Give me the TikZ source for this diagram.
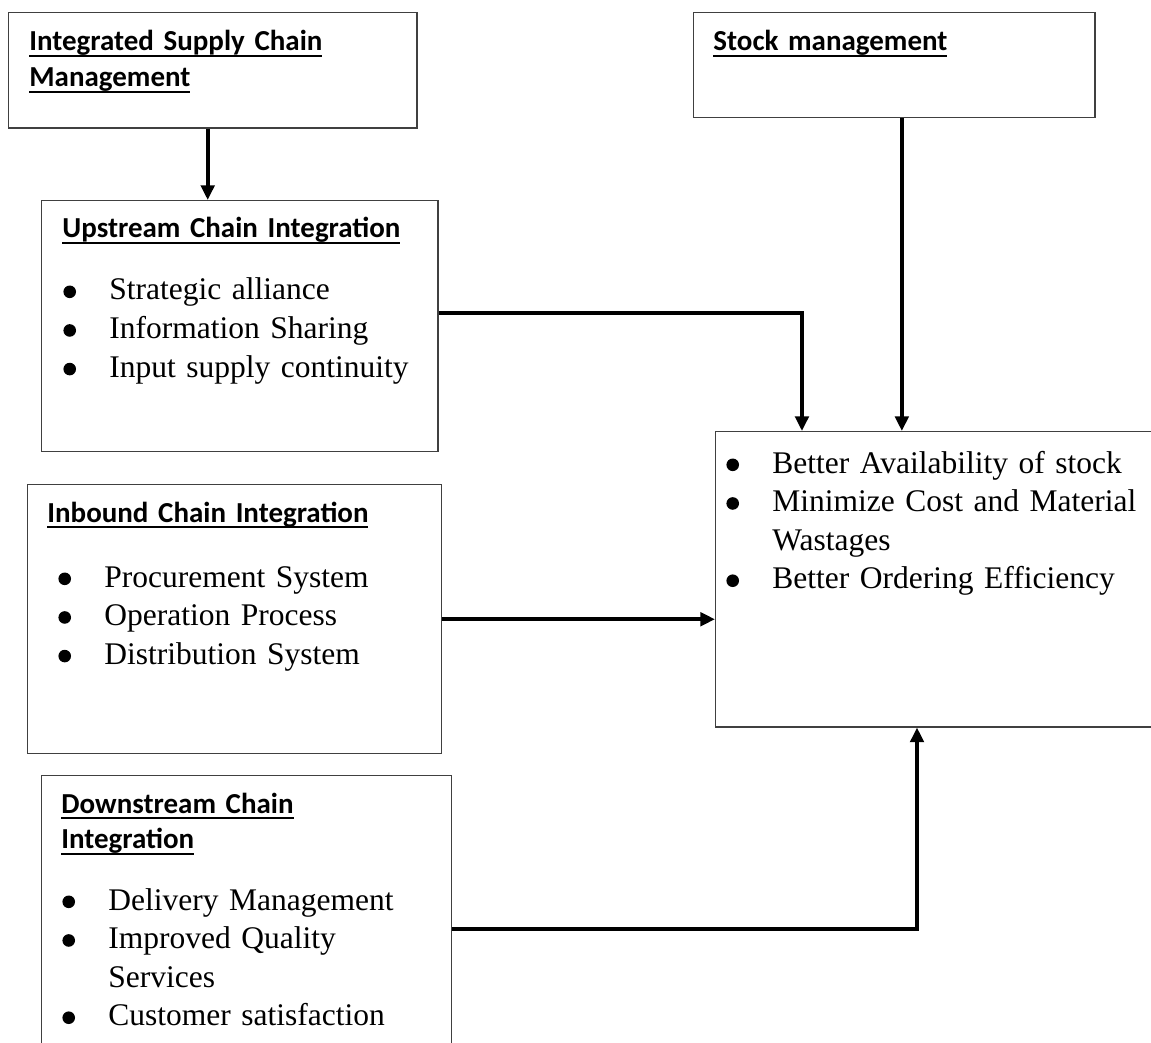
\documentclass[tikz,border=0pt]{standalone}
\usepackage{fontspec}
\setmainfont{Liberation Serif}
\newfontfamily\headfont{Carlito}
\usepackage{tikz}
\usetikzlibrary{arrows.meta}
\newsavebox{\undlbox}
\newcommand{\undl}[1]{\leavevmode\sbox{\undlbox}{#1}\rlap{\rule[-3pt]{\wd\undlbox}{0.9pt}}\usebox{\undlbox}}
\newlength{\bulw}
\setlength{\bulw}{21.9pt}
\newcommand{\bdot}{\tikz[baseline=-3.9pt]\fill (0,0) circle (3pt);}
\newcommand{\bitem}[1]{\makebox[\bulw][l]{\bdot}#1}
\newcommand{\bcont}[1]{\hspace*{\bulw}#1}

\begin{document}
\begin{tikzpicture}[
  x=0.47619pt, y=-0.47619pt,
  box/.style={draw=black!75, line width=0.7pt, anchor=north west, inner sep=0pt},
  head/.style={anchor=base west, inner sep=0pt, align=left, text width=200pt, font=\headfont\bfseries\fontsize{13.8}{17}\selectfont},
  blist/.style={anchor=base west, inner sep=0pt, align=left, text width=205pt, font=\fontsize{15}{18.4}\selectfont},
  arr/.style={-{Triangle[length=7pt, width=6.4pt]}, line width=1.9pt},
]
\path[use as bounding box, clip] (0,0) rectangle (1151,1042);

% --- Boxes ---
\node[box, minimum width=194.3pt, minimum height=54.8pt] (iscm) at (8,12) {};
\node[box, minimum width=191.0pt, minimum height=50.0pt] (stock) at (693,12) {};
\node[box, minimum width=188.6pt, minimum height=119.5pt] (up) at (41,200) {};
\node[box, minimum width=197.1pt, minimum height=128.1pt] (inb) at (27,484) {};
\node[box, minimum width=195.2pt, minimum height=145.7pt] (down) at (41,775) {};
\node[box, minimum width=209.5pt, minimum height=140.5pt] (res) at (715,431) {};

% --- Headings ---
\node[head] (iscmT) at (29,51) {\undl{Integrated Supply Chain}\\\undl{Management}};
\node[head] (stockT) at (713,51) {\undl{Stock management}};
\node[head] (upT) at (62,238) {\undl{Upstream Chain Integration}};
\node[head] (inbT) at (47,522) {\undl{Inbound Chain Integration}};
\node[head] (downT) at (61,813) {\undl{Downstream Chain}\\\undl{Integration}};

% --- Bullet lists ---
\node[blist] (upL) at (63,300) {\bitem{Strategic alliance}\\\bitem{Information Sharing}\\\bitem{Input supply continuity}};
\node[blist] (inbL) at (58,587) {\bitem{Procurement System}\\\bitem{Operation Process}\\\bitem{Distribution System}};
\node[blist] (resL) at (726,473) {\bitem{Better Availability of stock}\\\bitem{Minimize Cost and Material}\\\bcont{Wastages}\\\bitem{Better Ordering Efficiency}};
\node[blist] (downL) at (62,910) {\bitem{Delivery Management}\\\bitem{Improved Quality}\\\bcont{Services}\\\bitem{Customer satisfaction}};

% --- Connectors ---
\draw[arr] ([xshift=-2.4pt]iscm.south) -- ([xshift=-2.4pt]iscm.south |- up.north);
\draw[arr] ([yshift=6.4pt]up.east) -| ([xshift=41.4pt]res.north west);
\draw[arr] ([xshift=3.6pt]stock.south) -- ([xshift=3.6pt]stock.south |- res.north);
\draw[arr] (inb.east) -- (inb.east -| res.west);
\draw[arr] (down.east) -| ([xshift=96.2pt]res.south west);
\end{tikzpicture}
\end{document}
